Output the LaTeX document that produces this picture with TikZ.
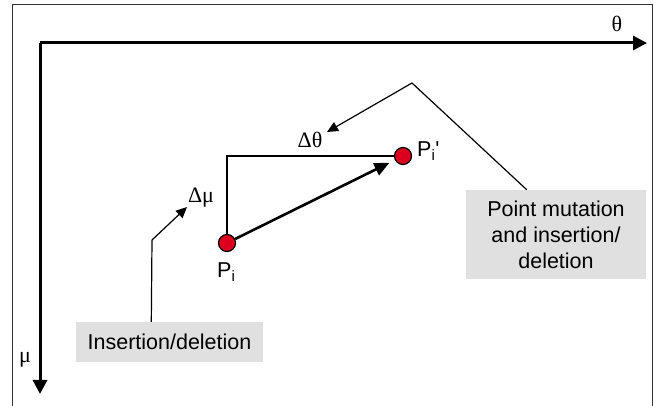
\documentclass[tikz,border=0pt]{standalone}
\usepackage{fontspec}
\setmainfont{Liberation Sans}
\newfontfamily\grk{Liberation Serif}
\usetikzlibrary{arrows.meta,calc}
\definecolor{ptred}{RGB}{220,0,30}
\definecolor{boxgray}{RGB}{224,224,224}
\begin{document}
\begin{tikzpicture}[x=1pt,y=-1pt,
  axisline/.style={line width=3pt,-{Triangle[length=14pt,width=14pt]}},
  thinline/.style={line width=1.2pt},
  thinarrow/.style={line width=1.2pt,-{Triangle[length=11pt,width=10pt]}},
  movearrow/.style={line width=2.6pt,-{Triangle[length=15pt,width=13pt]}},
  pointdot/.style={circle,draw=black,line width=1.2pt,fill=ptred,minimum size=17pt,inner sep=0pt},
  graybox/.style={fill=boxgray,inner sep=0pt,align=center,font=\fontsize{21.5}{26}\selectfont},
  sanslabel/.style={inner sep=0pt,font=\fontsize{21.5}{25}\selectfont},
  greeklabel/.style={inner sep=0pt,font=\fontsize{22}{24}\selectfont\grk}]
\useasboundingbox (0,0) rectangle (654,406);
% frame
\draw[line width=1pt,black!80] (12,406) -- (12,5) -- (652,5) -- (652,406);
% axes
\coordinate (origin) at (40,43);
\coordinate (thetaend) at (647,43);
\coordinate (muend) at (40,394);
\draw[axisline] (origin) -- (thetaend);
\draw[axisline] (origin) -- (muend);
\node[greeklabel] (thetalab) at (617,24) {θ};
\node[greeklabel] (mulab) at (25,360) {μ};
% points
\node[pointdot] (pi) at (227,243) {};
\node[pointdot] (pip) at (403,156) {};
\node[sanslabel,anchor=base west] (pilab) at (217,278) {P\textsubscript{i}};
\node[sanslabel,anchor=base west] (piplab) at (417,157) {P\textsubscript{i}\textquotesingle};
% path
\draw[thinline] (pi) |- (pip);
\draw[movearrow,shorten >=6pt] (pi) -- (pip);
% labels
\node[greeklabel] (dtheta) at (310,140) {Δθ};
\node[greeklabel] (dmu) at (201,198) {Δμ};
% boxes
\node[graybox,minimum width=187pt,minimum height=40pt] (ins) at (169.5,342) {Insertion/deletion};
\node[graybox,minimum width=180pt,minimum height=89pt] (pm) at (556,234.5) {Point mutation\\and insertion/\\deletion};
% connectors
\coordinate (peak) at (412,83);
\coordinate (dthetatip) at (327,132);
\coordinate (inselbow) at (152,240);
\coordinate (dmutip) at (187,207);
\draw[thinline] ($(pm.north west)+(61,0)$) -- (peak);
\draw[thinarrow] (peak) -- (dthetatip);
\draw[thinline] ($(ins.north west)+(75.5,0)$) -- (inselbow);
\draw[thinarrow] (inselbow) -- (dmutip);
\end{tikzpicture}
\end{document}
